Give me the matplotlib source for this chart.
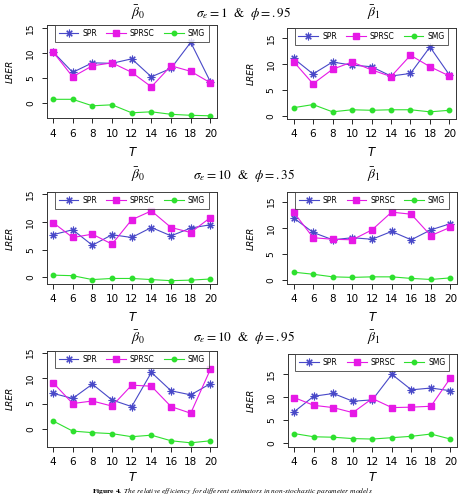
import numpy as np
import matplotlib
matplotlib.use("Agg")
import matplotlib.pyplot as plt

plt.rcParams['mathtext.fontset'] = 'stix'

T = [4, 6, 8, 10, 12, 14, 16, 18, 20]

# beta0, sigma=1, phi=.95
spr_1 = [10.3, 6.2, 8.1, 8.0, 8.9, 5.3, 7.0, 12.2, 4.3]
sprsc_1 = [10.3, 5.3, 7.5, 8.1, 6.2, 3.3, 7.5, 6.4, 4.1]
smg_1 = [0.8, 0.8, -0.5, -0.3, -1.9, -1.7, -2.2, -2.4, -2.5]
# beta1, sigma=1, phi=.95
spr_2 = [11.1, 8.1, 10.4, 9.8, 9.5, 7.7, 8.2, 13.3, 7.9]
sprsc_2 = [10.5, 6.2, 9.0, 10.4, 8.9, 7.6, 11.7, 9.5, 7.7]
smg_2 = [1.6, 2.2, 0.8, 1.2, 1.1, 1.2, 1.2, 0.8, 1.1]
# beta0, sigma=10, phi=.35
spr_3 = [7.7, 8.6, 5.8, 7.7, 7.2, 9.0, 7.5, 8.9, 9.5]
sprsc_3 = [9.9, 7.2, 7.8, 6.0, 10.4, 12.0, 9.0, 8.1, 10.8]
smg_3 = [0.4, 0.3, -0.4, -0.2, -0.2, -0.4, -0.6, -0.5, -0.3]
# beta1, sigma=10, phi=.35
spr_4 = [11.9, 9.1, 7.7, 8.1, 7.8, 9.3, 7.7, 9.6, 10.8]
sprsc_4 = [13.0, 8.1, 7.8, 7.7, 9.6, 13.0, 12.6, 8.5, 10.1]
smg_4 = [1.5, 1.1, 0.6, 0.5, 0.6, 0.6, 0.3, 0.1, 0.4]
# beta0, sigma=10, phi=.95
spr_5 = [7.0, 6.0, 8.8, 5.7, 4.4, 11.1, 7.5, 6.7, 8.9]
sprsc_5 = [9.1, 5.0, 5.5, 4.5, 8.6, 8.4, 4.4, 3.1, 11.7]
smg_5 = [1.6, -0.4, -0.7, -0.9, -1.5, -1.2, -2.3, -2.7, -2.3]
# beta1, sigma=10, phi=.95
spr_6 = [6.8, 10.2, 10.8, 9.1, 9.4, 15.0, 11.6, 12.0, 11.4]
sprsc_6 = [9.9, 8.2, 7.7, 6.6, 9.7, 7.7, 7.8, 8.0, 14.2]
smg_6 = [2.0, 1.3, 1.2, 0.9, 0.8, 1.1, 1.4, 1.9, 0.8]

W, H = 459, 495
fig = plt.figure(figsize=(W / 100, H / 100), dpi=100)

# pixel boxes: left, top, right, bottom ; ylim
panels = [
    ((46.7, 25, 216.7, 118.3), (-3.0, 15.67), spr_1, sprsc_1, smg_1),
    ((287.3, 28.3, 455.7, 119), (-0.58, 16.9), spr_2, sprsc_2, smg_2),
    ((46.7, 192.3, 216.7, 284), (-1.2, 15.36), spr_3, sprsc_3, smg_3),
    ((287.3, 192.3, 456.7, 284), (-0.77, 16.8), spr_4, sprsc_4, smg_4),
    ((46.7, 351, 216.7, 446.7), (-3.46, 15.3), spr_5, sprsc_5, smg_5),
    ((288, 354.3, 456.7, 446.7), (-0.88, 19.4), spr_6, sprsc_6, smg_6),
]

c_spr = '#4848c8'
c_sprsc = '#e619e6'
c_smg = '#2ee02e'

for i, ((l, t, r, b), ylim, a, s, g) in enumerate(panels):
    ax = fig.add_axes([l / W, 1 - b / H, (r - l) / W, (b - t) / H])
    ax.plot(T, a, color=c_spr, marker=(8, 2, 0), ms=5.5, lw=0.8, mew=0.8, label='SPR')
    ax.plot(T, s, color=c_sprsc, marker='s', ms=3.8, lw=0.8, label='SPRSC')
    ax.plot(T, g, color=c_smg, marker='o', ms=3.2, lw=0.8, label='SMG')
    ax.set_xlim(3.36, 20.64)
    ax.set_ylim(*ylim)
    ax.set_xticks(T)
    ax.set_yticks([0, 5, 10, 15])
    ax.tick_params(axis='x', labelsize=7.5, length=3.5, width=0.6, pad=4)
    ax.tick_params(axis='y', labelsize=6.5, length=3.5, width=0.6, pad=5, labelrotation=90)
    for lab in ax.get_yticklabels():
        lab.set_verticalalignment('center')
    for sp in ax.spines.values():
        sp.set_linewidth(0.7)
        sp.set_color('#333333')
    ax.set_xlabel('T', fontsize=8.5, style='italic', labelpad=3 if i >= 4 else 5)
    ax.set_ylabel('LRER', fontsize=6.5, style='italic', labelpad=8)
    leg = ax.legend(loc='upper center', ncol=3, fontsize=5.5, frameon=True,
                    fancybox=False, borderaxespad=0, handlelength=2.6,
                    columnspacing=1.2, handletextpad=0.5, borderpad=0.5,
                    bbox_to_anchor=(0.5, 1.0))
    leg.get_frame().set_edgecolor('#333333')
    leg.get_frame().set_linewidth(0.7)

titles = [
    (13, r'$\sigma_\varepsilon = 1$  &  $\phi = .95$'),
    (175, r'$\sigma_\varepsilon = 10$  &  $\phi = .35$'),
    (338, r'$\sigma_\varepsilon = 10$  &  $\phi = .95$'),
]
for py, txt in titles:
    fig.text(138 / W, 1 - py / H, r'$\bar{\beta}_0$', fontsize=10, ha='center', va='center')
    fig.text(244 / W, 1 - py / H, txt, fontsize=9.5, ha='center', va='center', family='STIXGeneral')
    fig.text(374 / W, 1 - py / H, r'$\bar{\beta}_1$', fontsize=10, ha='center', va='center')

fig.text(232 / W, 1 - 491 / H,
         r'$\mathbf{Figure\ 4.}$ The relative efficiency for different estimators in non-stochastic parameter models',
         fontsize=5.4, ha='center', va='center', family='STIXGeneral', style='italic')

fig.savefig('out.png', dpi=100)
